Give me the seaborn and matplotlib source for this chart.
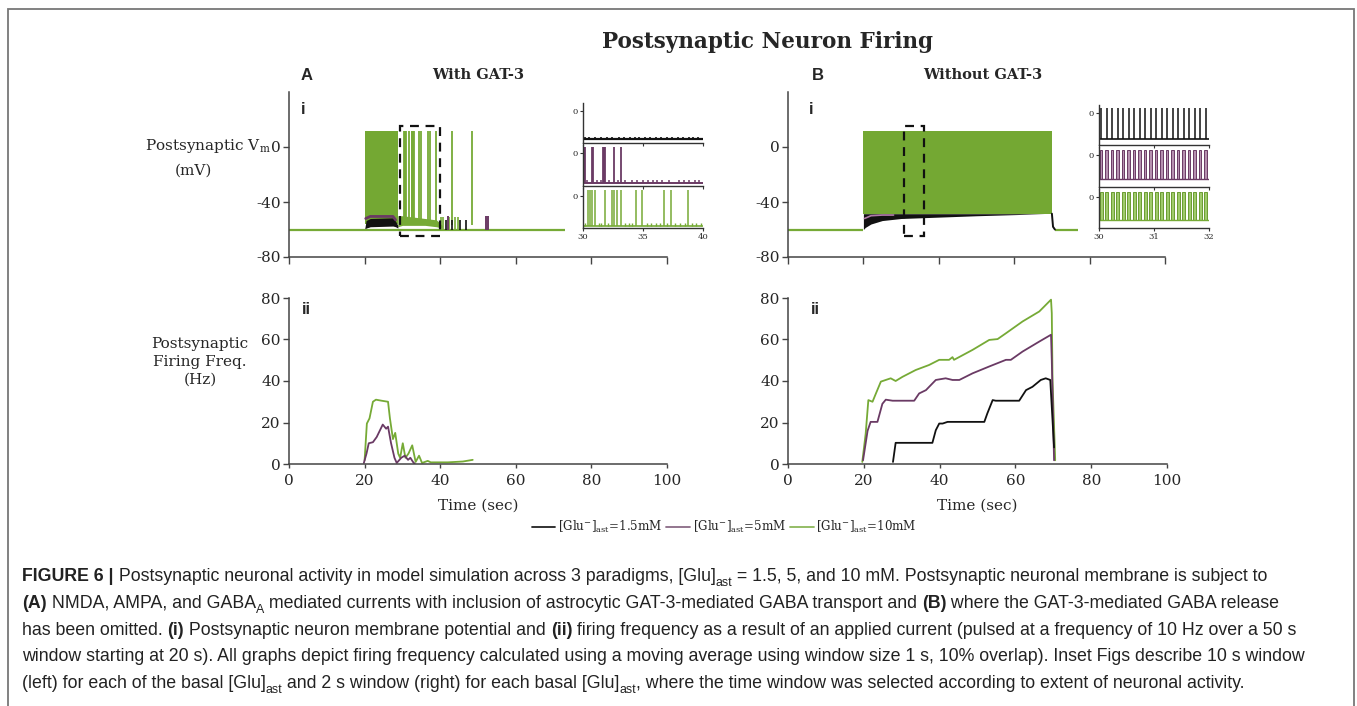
import numpy as np
import pandas as pd
import matplotlib
matplotlib.use('Agg')
import matplotlib.pyplot as plt
import matplotlib.transforms as mtransforms
from matplotlib.patches import Rectangle
from matplotlib.lines import Line2D
from matplotlib import font_manager
import seaborn as sns

# ---- data ----
concs = ['1.5mM', '5mM', '10mM']

# A (with GAT-3), membrane potential
A_trace_end = 73
A_block = [20.0, 28.8]                       # dense green firing
A_green_spk = [30.4, 30.6, 30.8, 31.0, 31.8, 32.5, 32.6, 32.8, 33.2, 34.4,
               34.9, 36.7, 37.4, 38.8, 43.1, 48.4]
A_genv_t = [28.8, 30.0, 33.0, 36.0, 39.0, 40.5]
A_genv_hi = [-50, -50, -51, -52, -53, -57]
A_genv_lo = [-58, -57, -57, -57, -58, -59]
A_black_t = [20.0, 20.4, 21.5, 27.5, 28.2, 28.8]
A_black_hi = [-60, -53.5, -52, -51.5, -54, -57]
A_black_lo = [-60, -59, -58, -57.5, -58, -59]
A_purple_t = [20.3, 21.5, 27.5, 28.2]
A_purple_v = [-52, -50.5, -50.5, -53]
A_black_bumps = [41.6, 43.2, 45.3, 46.8]
A_purple_bumps = [42.0, 52.2, 52.7]
A_green_bumps = [40.2, 40.8, 42.4, 43.9, 44.8]

# A inset (30-40 s)
Ains_black_bumps = [30.2, 30.5, 31.0, 31.5, 32.0, 32.4, 33.0, 33.4, 33.9, 34.3, 34.7,
                    35.2, 35.6, 36.1, 36.5, 37.0, 37.4, 37.9, 38.3, 38.8, 39.2, 39.6]
Ains_purple_spk = [30.05, 30.14, 30.78, 30.85, 31.68, 31.75, 31.82, 32.6, 33.16]
Ains_purple_bumps = [30.3, 31.2, 31.5, 32.2, 32.9, 33.5, 34.1, 34.5, 35.0, 35.4, 35.8,
                     36.2, 36.6, 37.2, 38.0, 38.4, 38.8, 39.3, 39.7]
Ains_green_spk = [30.42, 30.56, 30.75, 31.03, 31.8, 32.45, 32.59, 32.81, 33.17,
                  34.43, 34.9, 36.74, 37.35, 38.78]
Ains_green_bumps = [30.2, 31.3, 31.5, 32.1, 33.5, 33.8, 34.1, 35.3, 35.7, 36.1, 36.4,
                    37.0, 37.7, 38.1, 38.5, 39.1, 39.4, 39.8]

# B (without GAT-3), membrane potential
B_trace_end = 77
B_block = [20.0, 70.0]
B_env_t = [20.0, 20.5, 22.0, 25.0, 30.0, 40.0, 50.0, 60.0, 68.0, 70.0]
B_black_lo = [-60, -58.5, -56, -53.5, -52, -51, -50, -49.2, -48.5, -48.5]
B_purple_t = [20.3, 22.0, 25.0, 28.0]
B_purple_v = [-52, -50, -49.5, -49.5]

# B inset (30-32 s), 10 Hz pulses
Bins_pulses = [30.04, 30.14, 30.24, 30.34, 30.44, 30.54, 30.64, 30.74, 30.84, 30.94,
               31.04, 31.14, 31.24, 31.34, 31.44, 31.54, 31.64, 31.74, 31.84, 31.94]

# firing frequency (Hz)
A_ii_green_t = [20.0, 20.6, 21.3, 22.2, 23.0, 24.5, 26.2, 26.7, 27.5, 28.1, 28.9, 29.4,
                30.1, 30.8, 31.6, 32.6, 33.5, 34.4, 35.2, 36.7, 37.5, 42.0, 46.0, 48.6]
A_ii_green = [1.8, 19.5, 22.0, 30.0, 31.0, 30.5, 30.0, 22.0, 12.0, 15.0, 5.0, 3.0,
              10.0, 3.0, 5.0, 9.0, 1.0, 4.0, 0.5, 1.5, 0.8, 0.8, 1.2, 2.0]
A_ii_purple_t = [19.8, 20.5, 21.1, 22.2, 23.2, 24.0, 24.8, 25.7, 26.2, 27.0, 27.9, 28.5,
                 29.7, 30.6, 31.5, 32.1, 32.8, 33.3]
A_ii_purple = [0.5, 5.0, 10.0, 10.5, 13.0, 16.0, 19.0, 17.0, 18.0, 10.0, 3.0, 0.5,
               3.0, 4.0, 2.0, 3.0, 1.0, 0.0]

B_ii_green_t = [19.6, 20.5, 21.2, 22.3, 23.2, 24.5, 25.8, 27.1, 28.4, 30.2, 33.7, 37.2,
                39.9, 42.5, 43.4, 43.8, 48.7, 53.1, 55.3, 57.5, 61.9, 66.3, 69.4, 69.6,
                69.8, 70.5]
B_ii_green = [1, 14.7, 30.8, 30, 34, 39.7, 40.5, 41.3, 40, 42, 45.3, 47.7,
              50.2, 50.2, 51.5, 50.2, 55, 59.8, 60.2, 63, 68.7, 73.5, 79.2, 72.7,
              40, 1.8]
B_ii_purple_t = [19.8, 21.0, 21.8, 23.6, 24.9, 25.8, 27.6, 33.3, 34.6, 36.4, 39.0, 41.6,
                 43.4, 45.2, 48.7, 53.1, 57.5, 58.8, 61.9, 66.3, 69.4, 69.6, 70.2]
B_ii_purple = [1.8, 16, 20.3, 20.3, 29, 31, 30.5, 30.5, 34, 35.6, 40.5, 41.3,
               40.5, 40.5, 43.7, 47, 50.2, 50.2, 54.2, 59, 62.3, 50, 1.8]
B_ii_black_t = [27.7, 28.4, 38.1, 39.0, 39.9, 40.8, 42.1, 51.8, 52.6, 54.0, 54.8, 61.0,
                62.8, 64.5, 66.7, 68.0, 69.2, 69.8, 70.2]
B_ii_black = [1, 10.2, 10.2, 16.3, 19.5, 19.5, 20.3, 20.3, 24.4, 30.8, 30.5, 30.5,
              35.6, 37.2, 40.5, 41.3, 40.5, 21, 8]

# ---- style ----
W, H = 1357, 706
BLACK = '#111111'
PURPLE = '#6a3a64'
GREEN = '#76aa36'
GREEN_FILL = '#74a833'
SPINE = '#444444'
pal = {'1.5mM': BLACK, '5mM': PURPLE, '10mM': GREEN}
legend_pal = {'1.5mM': '#222222', '5mM': '#8a6a86', '10mM': '#8cb85a'}

sns.set_style('white')
plt.rcParams['font.family'] = ['DejaVu Serif']
plt.rcParams['mathtext.fontset'] = 'dejavuserif'
plt.rcParams['axes.unicode_minus'] = False

fig = plt.figure(figsize=(W / 100, H / 100), dpi=100)
PIX = mtransforms.IdentityTransform()


def box(l, t, r, b):
    return [l / W, 1 - b / H, (r - l) / W, (b - t) / H]


def style(ax, xlen=4):
    sns.despine(ax=ax)
    for s in ['left', 'bottom']:
        ax.spines[s].set_color(SPINE)
        ax.spines[s].set_linewidth(1.1)
    ax.tick_params(axis='y', direction='out', length=4, width=1, color=SPINE,
                   labelsize=11, pad=2, left=True)
    ax.tick_params(axis='x', direction='out', length=xlen, width=1, color=SPINE,
                   labelsize=11, pad=4, bottom=True)
    ax.patch.set_alpha(0)


# ---- A i ----
axAi = fig.add_axes(box(289, 92, 667, 257))
axAi.set_xlim(0, 100)
axAi.set_ylim(-80, 40)
axAi.set_yticks([-80, -40, 0])
axAi.set_xticks([0, 20, 40, 60, 80, 100])
axAi.set_xticklabels([])
style(axAi, xlen=5)
axAi.hlines(-60, 0, A_trace_end, color=GREEN, lw=1.6)
axAi.fill_between(A_block, -56, 12, color=GREEN_FILL, lw=0)
axAi.fill_between(A_genv_t, A_genv_lo, A_genv_hi, color=GREEN, lw=0)
axAi.vlines(A_green_spk, -57, 12, color=GREEN, lw=1.3)
axAi.vlines(A_green_bumps, -60, -51, color=GREEN, lw=1.2)
axAi.plot(A_purple_t, A_purple_v, color=PURPLE, lw=2)
axAi.fill_between(A_black_t, A_black_lo, A_black_hi, color=BLACK, lw=0)
axAi.vlines(A_black_bumps, -60, -53, color=BLACK, lw=1.2)
axAi.vlines(A_purple_bumps, -60, -50, color=PURPLE, lw=1.4)
axAi.add_patch(Rectangle((29.4, -65), 10.6, 80, fill=False, ls=(0, (4, 3)),
                         lw=1.6, ec=BLACK, zorder=5))

# ---- B i ----
axBi = fig.add_axes(box(788, 92, 1165, 257))
axBi.set_xlim(0, 100)
axBi.set_ylim(-80, 40)
axBi.set_yticks([-80, -40, 0])
axBi.set_xticks([0, 20, 40, 60, 80, 100])
axBi.set_xticklabels([])
style(axBi, xlen=5)
axBi.hlines(-60, 0, B_block[0], color=GREEN, lw=1.6)
axBi.hlines(-60, 70.8, B_trace_end, color=GREEN, lw=1.6)
axBi.fill_between(B_block, -49, 12, color=GREEN_FILL, lw=0)
axBi.fill_between(B_env_t, B_black_lo, -48.5, color=BLACK, lw=0)
axBi.plot(B_purple_t, B_purple_v, color='#b07aa8', lw=1.2)
axBi.plot([70.0, 70.3, 70.8], [-48.5, -58, -60], color=BLACK, lw=1.4)
axBi.add_patch(Rectangle((30.8, -65), 5.2, 80, fill=False, ls=(0, (4, 3)),
                         lw=1.6, ec=BLACK, zorder=5))


# ---- insets ----
def inset(l, t, r, b, xlim, xticks, labels):
    ax = fig.add_axes(box(l, t, r, b))
    ax.set_xlim(*xlim)
    ax.set_ylim(-62, 16)
    ax.set_yticks([0])
    ax.set_xticks(xticks)
    sns.despine(ax=ax)
    for s in ['left', 'bottom']:
        ax.spines[s].set_color('#333333')
        ax.spines[s].set_linewidth(1)
    ax.tick_params(labelsize=6, length=2, width=0.8, pad=1.5, left=True, bottom=True,
                   direction='out', color='#333333')
    if not labels:
        ax.set_xticklabels([])
    ax.patch.set_alpha(0)
    return ax


a1 = inset(583, 103, 703, 143, (30, 40), [30, 35, 40], False)
a2 = inset(583, 145, 703, 186, (30, 40), [30, 35, 40], False)
a3 = inset(583, 188, 703, 228, (30, 40), [30, 35, 40], True)
a1.hlines(-55, 30, 40, color=BLACK, lw=1.6)
a1.vlines(Ains_black_bumps, -55, -50, color=BLACK, lw=1.2)
a2.hlines(-56, 30, 40, color=PURPLE, lw=1.4)
a2.vlines(Ains_purple_spk, -56, 12, color=PURPLE, lw=1.3)
a2.vlines(Ains_purple_bumps, -56, -50, color=PURPLE, lw=1.1)
a3.hlines(-59, 30, 40, color=GREEN, lw=1.2)
a3.vlines(Ains_green_spk, -59, 12, color=GREEN, lw=1.1)
a3.vlines(Ains_green_bumps, -59, -53, color=GREEN, lw=1.0)

b1 = inset(1099, 105, 1209, 145, (30, 32), [30, 31, 32], False)
b2 = inset(1099, 147, 1209, 187, (30, 32), [30, 31, 32], False)
b3 = inset(1099, 189, 1209, 228, (30, 32), [30, 31, 32], True)
b1.hlines(-51, 30, 32, color=BLACK, lw=1.2)
b1.vlines(Bins_pulses, -51, 10, color=BLACK, lw=1.1)
b2.bar(Bins_pulses, 56, bottom=-46, width=0.045, color='#b690b0', edgecolor=PURPLE, lw=0.7)
b2.hlines(-46, 30, 32, color=PURPLE, lw=1)
b3.bar(Bins_pulses, 56, bottom=-46, width=0.06, color='#9fcb6b', edgecolor='#6a9b30', lw=0.7)
b3.hlines(-46, 30, 32, color=GREEN, lw=1)


# ---- firing frequency ----
def freq_df(parts):
    frames = []
    for conc, t, v in parts:
        frames.append(pd.DataFrame({'t': t, 'hz': v, 'conc': conc}))
    return pd.concat(frames, ignore_index=True)


dfA = freq_df([('10mM', A_ii_green_t, A_ii_green), ('5mM', A_ii_purple_t, A_ii_purple)])
dfB = freq_df([('10mM', B_ii_green_t, B_ii_green), ('5mM', B_ii_purple_t, B_ii_purple),
               ('1.5mM', B_ii_black_t, B_ii_black)])

for rect, df in [((289, 298, 667, 464), dfA), ((788, 298, 1167, 464), dfB)]:
    ax = fig.add_axes(box(*rect))
    order = [c for c in ['10mM', '5mM', '1.5mM'] if c in df['conc'].unique()]
    sns.lineplot(data=df, x='t', y='hz', hue='conc', hue_order=order, palette=pal,
                 ax=ax, legend=False, sort=False, estimator=None, lw=1.3)
    ax.set_xlim(0, 100)
    ax.set_ylim(0, 80)
    ax.set_xticks([0, 20, 40, 60, 80, 100])
    ax.set_yticks([0, 20, 40, 60, 80])
    style(ax, xlen=3)
    ax.set_ylabel('')
    ax.set_xlabel('Time (sec)', fontsize=11, labelpad=8)

# ---- texts ----
def ftxt(x, y, s, **kw):
    return fig.text(x, H - y, s, transform=PIX, **kw)


ftxt(767, 42, 'Postsynaptic Neuron Firing', fontsize=15.5, fontweight='bold',
     ha='center', va='center')
for x, s in [(307, 'A'), (818, 'B')]:
    ftxt(x, 75, s, fontsize=12, fontweight='bold', family='Liberation Sans',
         ha='center', va='center')
ftxt(478, 75, 'With GAT-3', fontsize=10.5, fontweight='bold', ha='center', va='center')
ftxt(983, 75, 'Without GAT-3', fontsize=10.5, fontweight='bold', ha='center', va='center')
for x, y, s in [(303, 110, 'i'), (306, 310, 'ii'), (811, 110, 'i'), (815, 310, 'ii')]:
    ftxt(x, y, s, fontsize=12, fontweight='bold', family='Liberation Sans',
         ha='center', va='center')
ftxt(271, 150, r'Postsynaptic V$_{\mathrm{m}}$', fontsize=11, ha='right', va='baseline')
ftxt(193, 171, '(mV)', fontsize=11, ha='center', va='center')
ftxt(200, 362, 'Postsynaptic\nFiring Freq.\n(Hz)', fontsize=11, ha='center',
     va='center', linespacing=1.35)

handles = [Line2D([], [], color=legend_pal[c], lw=1.3) for c in concs]
labels = [r'[Glu$^{-}$]$_{\mathrm{ast}}$=' + c for c in concs]
fig.legend(handles, labels, loc='center', bbox_to_anchor=(724 / W, 1 - 527 / H),
           ncol=3, frameon=False, fontsize=8.6, handlelength=2.0, handletextpad=0.2,
           columnspacing=0.35)

# ---- caption ----
names = {f.name for f in font_manager.fontManager.ttflist}
cap_family = 'Liberation Sans Narrow' if 'Liberation Sans Narrow' in names else 'Liberation Sans'
rend = fig.canvas.get_renderer()


def measure(txt, fs, wt):
    a = fig.text(0, 0, txt + '|', fontsize=fs, fontweight=wt, family=cap_family, transform=PIX)
    b = fig.text(0, 0, '|', fontsize=fs, fontweight=wt, family=cap_family, transform=PIX)
    w = a.get_window_extent(rend).width - b.get_window_extent(rend).width
    a.remove()
    b.remove()
    return w


def run_props(kind, size):
    fs = size * 0.7 if kind == 'sub' else size
    wt = 'bold' if kind == 'bold' else 'normal'
    return fs, wt


def write_runs(x, y, parts, size, draw=True):
    for txt, kind in parts:
        fs, wt = run_props(kind, size)
        dy = -size * 0.28 * 100 / 72 if kind == 'sub' else 0
        if draw:
            fig.text(x, H - y + dy, txt, fontsize=fs, fontweight=wt, family=cap_family,
                     transform=PIX, va='baseline', color='#222222')
        x += measure(txt, fs, wt)
    return x


caption = [
    [('FIGURE 6 |', 'bold'),
     (' Postsynaptic neuronal activity in model simulation across 3 paradigms, [Glu]', 'n'),
     ('ast', 'sub'),
     (' = 1.5, 5, and 10 mM. Postsynaptic neuronal membrane is subject to', 'n')],
    [('(A)', 'bold'), (' NMDA, AMPA, and GABA', 'n'), ('A', 'sub'),
     (' mediated currents with inclusion of astrocytic GAT-3-mediated GABA transport and ', 'n'),
     ('(B)', 'bold'), (' where the GAT-3-mediated GABA release', 'n')],
    [('has been omitted. ', 'n'), ('(i)', 'bold'),
     (' Postsynaptic neuron membrane potential and ', 'n'), ('(ii)', 'bold'),
     (' firing frequency as a result of an applied current (pulsed at a frequency of 10 Hz over a 50 s', 'n')],
    [('window starting at 20 s). All graphs depict firing frequency calculated using a moving '
      'average using window size 1 s, 10% overlap). Inset Figs describe 10 s window', 'n')],
    [('(left) for each of the basal [Glu]', 'n'), ('ast', 'sub'),
     (' and 2 s window (right) for each basal [Glu]', 'n'), ('ast', 'sub'),
     (', where the time window was selected according to extent of neuronal activity.', 'n')],
]
cap_x = 22
w12 = write_runs(0, 0, caption[3], 12, draw=False)
cap_size = 12 * (1305 - cap_x) / w12
for i, line in enumerate(caption):
    write_runs(cap_x, 581 + i * 26.8, line, cap_size)

# frame
fig.add_artist(Rectangle((8, -5), 1346, H - 9 + 5, transform=PIX, fill=False,
                         ec='#777777', lw=1.3))

fig.savefig('out.png', dpi=100)
